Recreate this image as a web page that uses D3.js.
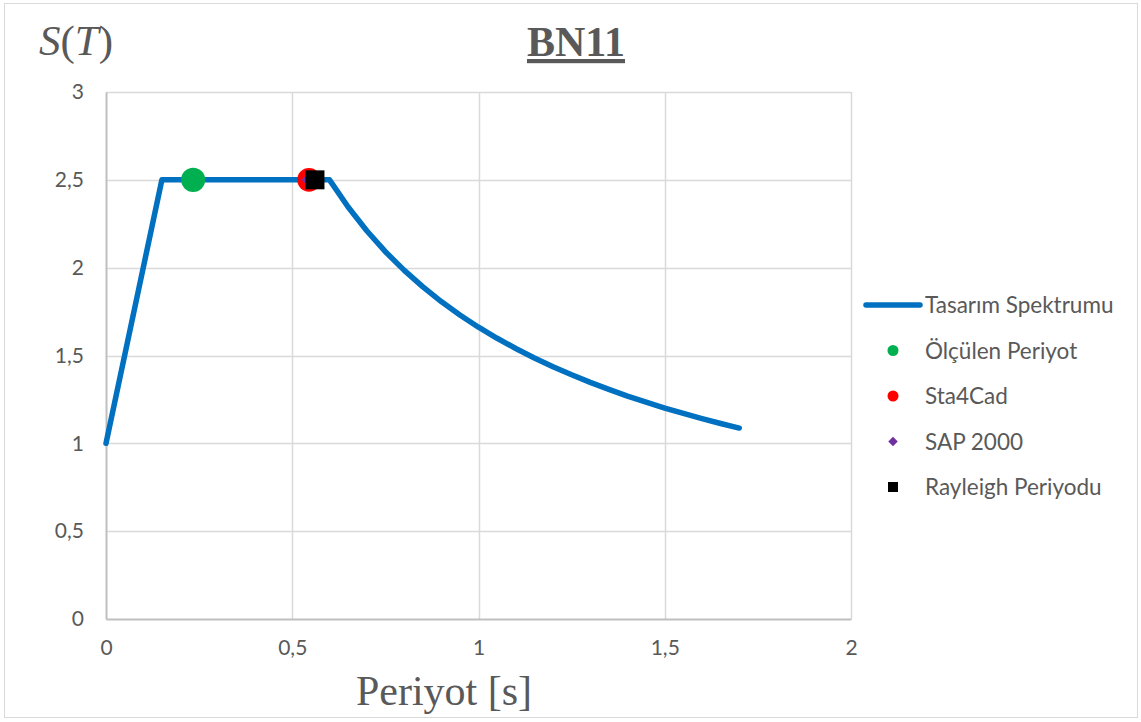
<!DOCTYPE html>
<html><head><meta charset="utf-8">
<script src="https://cdn.jsdelivr.net/npm/d3@7"></script>
<style>body{margin:0;background:#fff}svg{display:block}</style>
</head><body>
<svg id="c" width="1141" height="722"></svg>
<script>
// Data
const spectrumT = [0, 0.15, 0.6, 0.65, 0.7, 0.75, 0.8, 0.85, 0.9, 0.95, 1.0, 1.05, 1.1, 1.15, 1.2, 1.25, 1.3, 1.35, 1.4, 1.45, 1.5, 1.55, 1.6, 1.65, 1.7];
const spectrumS = [1.0, 2.5, 2.5, 2.345, 2.21, 2.091, 1.986, 1.892, 1.807, 1.731, 1.661, 1.598, 1.54, 1.486, 1.436, 1.39, 1.347, 1.307, 1.269, 1.234, 1.201, 1.17, 1.141, 1.113, 1.087];
const measuredT = [0.234], measuredS = [2.5];
const sta4cadT = [0.545], sta4cadS = [2.5];
const sapT = [0.55], sapS = [2.5];
const rayleighT = [0.561], rayleighS = [2.5];
const xTicks = [0, 0.5, 1, 1.5, 2];
const yTicks = [0, 0.5, 1, 1.5, 2, 2.5, 3];
const legendLabels = ["Tasarım Spektrumu", "Ölçülen Periyot", "Sta4Cad", "SAP 2000", "Rayleigh Periyodu"];

const svg = d3.select("#c");
const W = 1141, H = 722;
const m = {l:106, r:851, t:92, b:619};
const x = d3.scaleLinear().domain([0,2]).range([m.l, m.r]);
const y = d3.scaleLinear().domain([0,3]).range([m.b, m.t]);
const txt = "#595959";
const sans = "Lato, 'Open Sans', sans-serif";
const serif = "'Liberation Serif', 'Times New Roman', serif";
const fmt = d => String(d).replace(".", ",");

// outer border
svg.append("rect").attr("x",4.5).attr("y",3.5).attr("width",W-8).attr("height",H-8)
  .attr("fill","#fff").attr("stroke","#d9d9d9");

// gridlines
svg.append("g").selectAll("line").data(yTicks.filter(d=>d>0)).join("line")
  .attr("x1",m.l).attr("x2",m.r).attr("y1",d=>Math.round(y(d))+0.5).attr("y2",d=>Math.round(y(d))+0.5)
  .attr("stroke","#d9d9d9").attr("stroke-width",1.5);
svg.append("g").selectAll("line").data(xTicks.filter(d=>d>0)).join("line")
  .attr("y1",m.t).attr("y2",m.b).attr("x1",d=>Math.round(x(d))+0.5).attr("x2",d=>Math.round(x(d))+0.5)
  .attr("stroke","#d9d9d9").attr("stroke-width",1.5);

// axes
const xAxis = svg.append("g").attr("transform",`translate(0,${y(0)})`)
  .call(d3.axisBottom(x).tickValues(xTicks).tickFormat(fmt).tickSize(0).tickPadding(21));
const yAxis = svg.append("g").attr("transform",`translate(${x(0)},0)`)
  .call(d3.axisLeft(y).tickValues(yTicks).tickFormat(fmt).tickSize(0).tickPadding(22));
[xAxis,yAxis].forEach(a=>{
  a.select(".domain").attr("stroke","#bfbfbf").attr("stroke-width",2);
  a.selectAll("text").attr("fill",txt).style("font-family",sans).style("font-size","21px");
});

// spectrum line
const pts = spectrumT.map((t,i)=>[t, spectrumS[i]]);
svg.append("path").datum(pts)
  .attr("d", d3.line().x(d=>x(d[0])).y(d=>y(d[1])))
  .attr("fill","none").attr("stroke","#0070C0").attr("stroke-width",5.5)
  .attr("stroke-linejoin","round").attr("stroke-linecap","round");

// markers
function markers(T,S,type,size,color,rot){
  svg.append("g").selectAll("path").data(T.map((t,i)=>[t,S[i]])).join("path")
    .attr("transform",d=>`translate(${x(d[0])},${y(d[1])}) rotate(${rot||0})`)
    .attr("d",d3.symbol().type(type).size(size)()).attr("fill",color);
}
markers(measuredT, measuredS, d3.symbolCircle, 460, "#00B050");
markers(sta4cadT, sta4cadS, d3.symbolCircle, 440, "#FF0000");
markers(sapT, sapS, d3.symbolSquare, 170, "#7030A0", 45);
markers(rayleighT, rayleighS, d3.symbolSquare, 360, "#000000");

// title
svg.append("text").attr("x",576).attr("y",56).attr("text-anchor","middle")
  .attr("fill",txt).style("font-family",serif)
  .style("font-size","42px").style("font-weight","bold").style("text-decoration","underline")
  .text("BN11");

// y label S(T)
const yl = svg.append("text").attr("x",39).attr("y",55).attr("fill",txt)
  .style("font-family",serif).style("font-size","43px");
yl.append("tspan").style("font-style","italic").text("S");
yl.append("tspan").text("(");
yl.append("tspan").style("font-style","italic").text("T");
yl.append("tspan").text(")");

// x label
svg.append("text").attr("x",444).attr("y",705).attr("text-anchor","middle").attr("fill",txt)
  .style("font-family",serif).style("font-size","42px")
  .text("Periyot [s]");

// legend
const lg = svg.append("g");
const ly0 = 305, ldy = 45.5, lmx = 893, ltx = 925;
lg.append("line").attr("x1",866).attr("x2",920).attr("y1",ly0).attr("y2",ly0)
  .attr("stroke","#0070C0").attr("stroke-width",5.5).attr("stroke-linecap","round");
const lsyms = [null,[d3.symbolCircle,95,"#00B050",0],[d3.symbolCircle,95,"#FF0000",0],[d3.symbolSquare,45,"#7030A0",45],[d3.symbolSquare,100,"#000",0]];
legendLabels.forEach((lab,i)=>{
  const yy = ly0 + i*ldy;
  if(lsyms[i]) lg.append("path").attr("transform",`translate(${lmx},${yy}) rotate(${lsyms[i][3]})`)
    .attr("d",d3.symbol().type(lsyms[i][0]).size(lsyms[i][1])()).attr("fill",lsyms[i][2]);
  lg.append("text").attr("x",ltx).attr("y",yy).attr("dy","0.36em").attr("fill",txt)
    .style("font-family",sans).style("font-size","22.5px").text(lab);
});
</script>
</body></html>
